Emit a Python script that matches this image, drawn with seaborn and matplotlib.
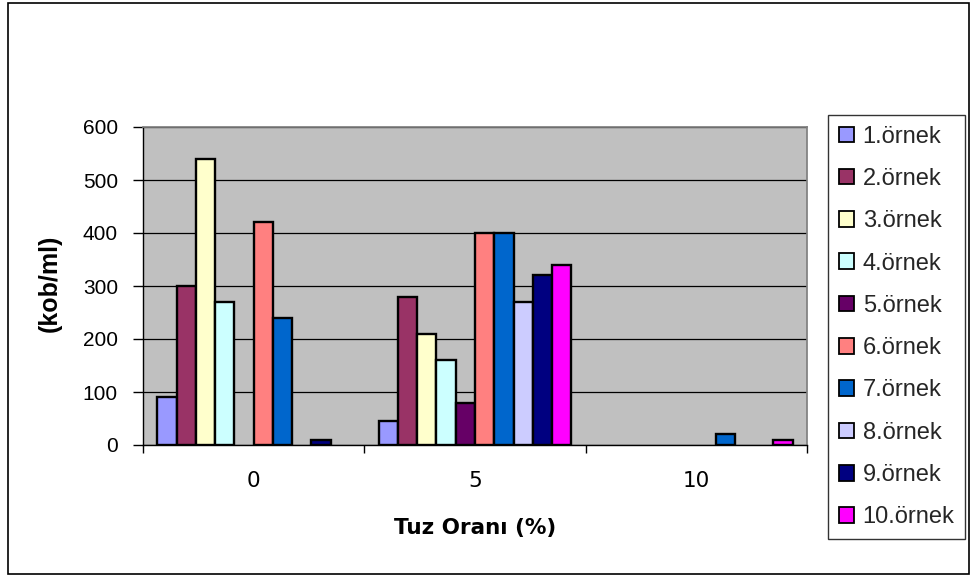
import numpy as np
import pandas as pd
import matplotlib
matplotlib.use("Agg")
import matplotlib.pyplot as plt
from matplotlib.patches import Patch, Rectangle
import seaborn as sns

sns.set_theme(style="white")
plt.rcParams['font.family'] = ['Liberation Sans', 'DejaVu Sans']

# data
tuz_orani = ["0", "5", "10"]
ornekler = ["1.örnek", "2.örnek", "3.örnek", "4.örnek", "5.örnek",
            "6.örnek", "7.örnek", "8.örnek", "9.örnek", "10.örnek"]
deger_0 = [90, 300, 540, 270, 0, 420, 240, 0, 10, 0]
deger_5 = [45, 280, 210, 160, 80, 400, 400, 270, 320, 340]
deger_10 = [0, 0, 0, 0, 0, 0, 20, 0, 0, 10]

renkler = ["#9999FF", "#993366", "#FFFFCC", "#CCFFFF", "#660066",
           "#FF8080", "#0066CC", "#CCCCFF", "#000080", "#FF00FF"]

rows = []
for tuz, vals in zip(tuz_orani, [deger_0, deger_5, deger_10]):
    for orn, v in zip(ornekler, vals):
        rows.append({"Tuz": tuz, "Ornek": orn, "kob": v})
df = pd.DataFrame(rows)
df["kob"] = df["kob"].replace(0, np.nan)  # empty bars are not drawn

fig = plt.figure(figsize=(9.72, 5.77), dpi=100)
ax = fig.add_axes([143/972, 1-445/577, (807-143)/972, (445-127)/577])
ax.set_facecolor("#C0C0C0")

sns.barplot(data=df, x="Tuz", y="kob", hue="Ornek", order=tuz_orani,
            hue_order=ornekler, palette=renkler, width=0.87,
            edgecolor="black", linewidth=1.7, saturation=1,
            legend=False, ax=ax)

ax.set_ylim(0, 600)
ax.set_xlim(-0.5, 2.5)
ax.set_yticks(range(0, 601, 100))
ax.yaxis.grid(True, color="black", linewidth=0.9)
ax.set_axisbelow(True)

for s in ["top", "right"]:
    ax.spines[s].set_color("#808080")
for s in ["left", "bottom"]:
    ax.spines[s].set_color("black")
    ax.spines[s].set_linewidth(1.0)

ax.tick_params(axis="y", direction="out", length=7, width=1, color="black",
               left=True, pad=11, labelsize=15, labelcolor="black")
ax.set_xticks([0, 1, 2])
ax.set_xticklabels(tuz_orani, family="DejaVu Sans")
ax.set_xticks([-0.5, 0.5, 1.5, 2.5], minor=True)
ax.tick_params(axis="x", which="major", length=0, pad=19, labelsize=15.5,
               labelcolor="black")
ax.tick_params(axis="x", which="minor", direction="out", length=6, width=1,
               color="black", bottom=True)

ax.set_xlabel("Tuz Oranı (%)", fontsize=15.5, fontweight="bold",
              family="DejaVu Sans", color="black")
ax.xaxis.set_label_coords(0.5, -0.228)
ax.set_ylabel("(kob/ml)", fontsize=18, fontweight="bold", color="black")
ax.yaxis.set_label_coords(-0.122, 0.51)

handles = [Patch(facecolor=c, edgecolor="black", linewidth=1.3) for c in renkler]
leg = fig.legend(handles, ornekler, loc="upper left",
                 bbox_to_anchor=(828/972, 1-115/577), fontsize=17,
                 frameon=True, fancybox=False, shadow=False,
                 handlelength=0.64, handleheight=0.64, handletextpad=0.38,
                 labelspacing=0.86, borderpad=0.45, borderaxespad=0)
leg.get_frame().set_edgecolor("black")
leg.get_frame().set_linewidth(1.0)

fig.patches.append(Rectangle((8/972, 3/577), (969-8)/972, (574-3)/577,
                             transform=fig.transFigure, fill=False,
                             edgecolor="black", linewidth=1.2))

fig.savefig("out.png", dpi=100)
